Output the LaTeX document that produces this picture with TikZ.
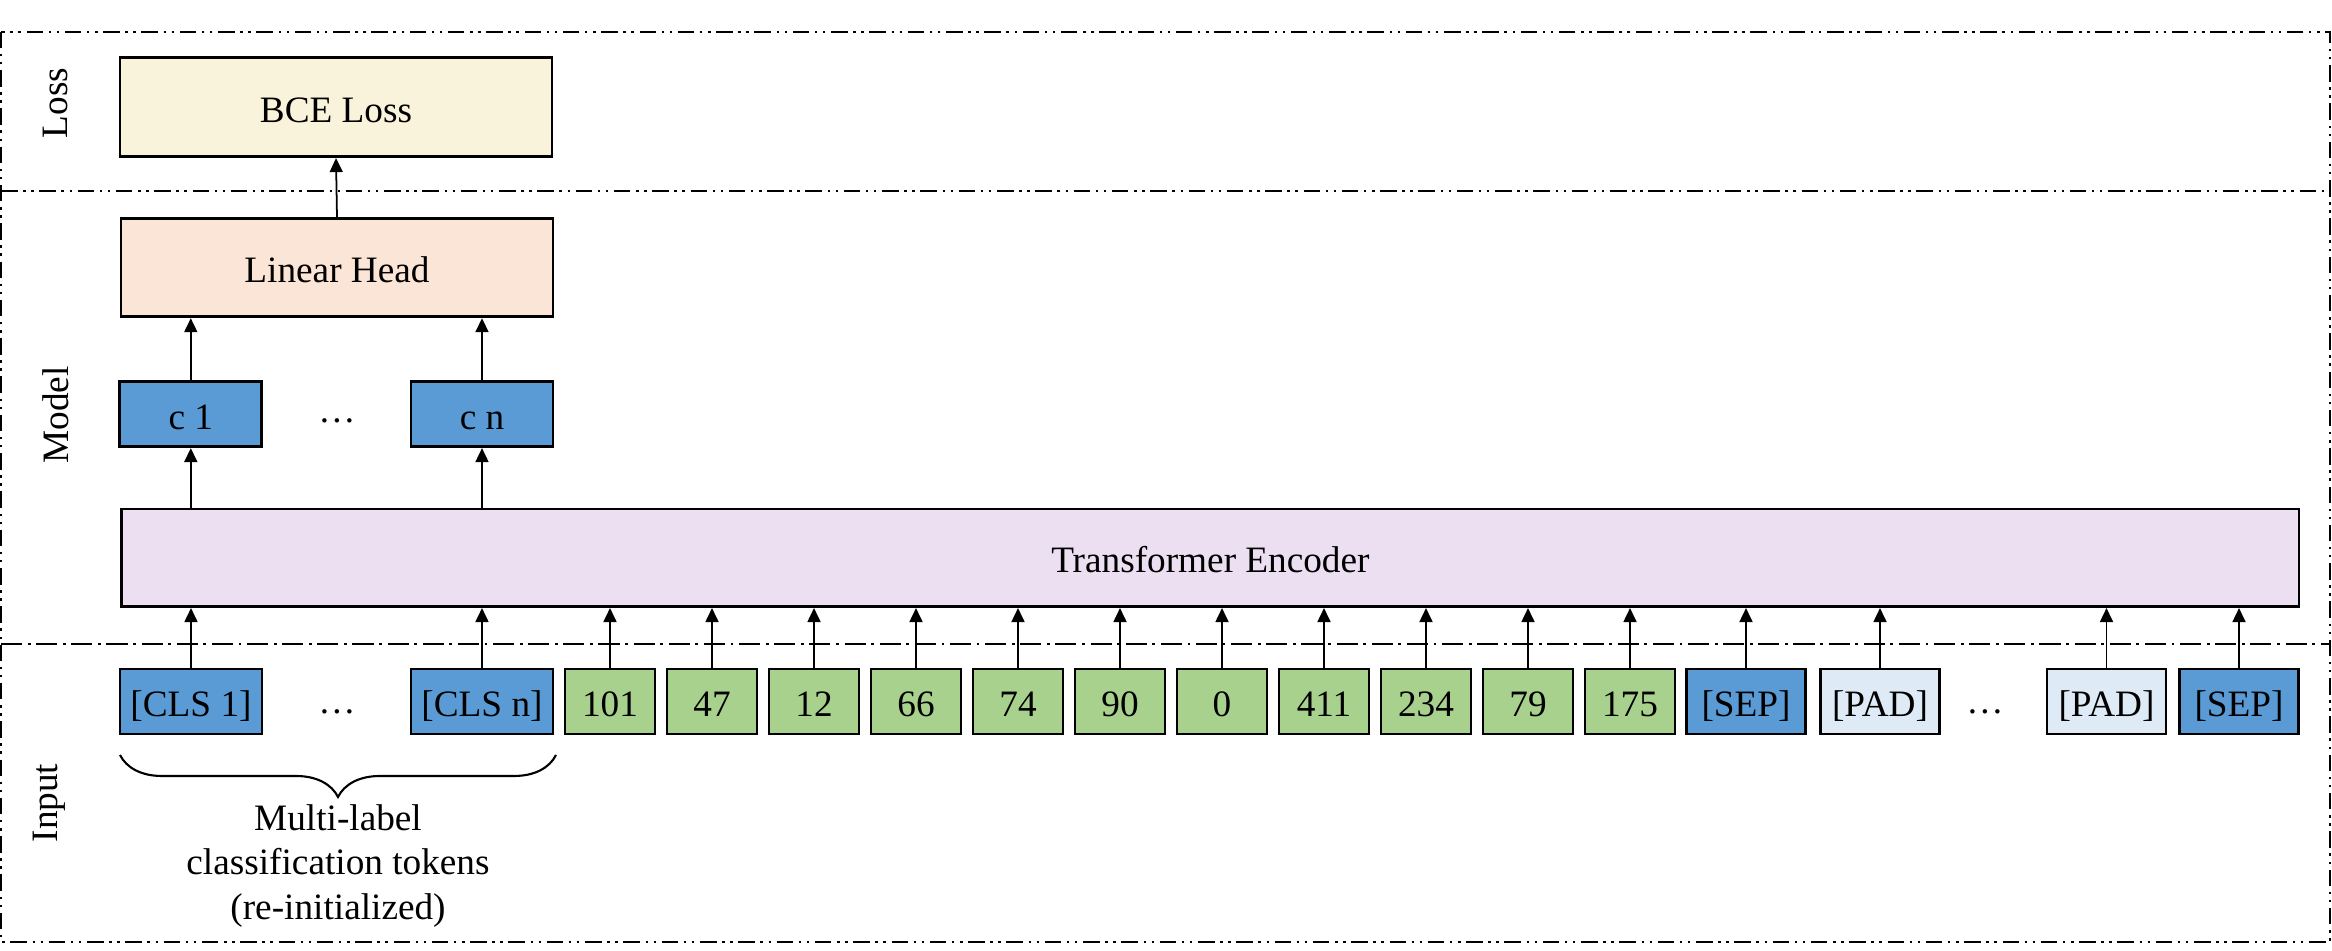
\documentclass[tikz,border=0pt]{standalone}
\usepackage{fontspec}
\setmainfont{Liberation Serif}
\usetikzlibrary{arrows.meta,decorations.pathreplacing}
\definecolor{lossyellow}{HTML}{FAF3DC}
\definecolor{headpeach}{HTML}{FBE5D6}
\definecolor{encpurple}{HTML}{EBDFF1}
\definecolor{tokblue}{HTML}{5B9BD5}
\definecolor{tokgreen}{HTML}{A9D18E}
\definecolor{padblue}{HTML}{DEEBF7}
\begin{document}
\begin{tikzpicture}[every node/.style={font=\fontsize{10.6}{12.7}\selectfont},
    blk/.style={draw, line width=0.8pt, inner sep=0pt, minimum height=0.65cm, text height=0.9em, text depth=0.05em},
    cls/.style={blk, fill=tokblue, minimum width=1.42cm},
    tok/.style={blk, fill=tokgreen, minimum width=0.9cm},
    spc/.style={blk, fill=tokblue, minimum width=1.19cm},
    pad/.style={blk, fill=padblue, minimum width=1.19cm},
    up/.style={-{Triangle[length=1.4mm,width=1.3mm]}, line width=0.5pt},
    zone/.style={line width=0.6pt, dash pattern=on 4.7pt off 1.6pt on 0.7pt off 1.6pt on 0.7pt off 1.6pt},
    zonein/.style={line width=0.6pt, dash pattern=on 6pt off 1.6pt on 0.8pt off 1.6pt}]
    \useasboundingbox (0,0) rectangle (23.32,-9.51);
    \draw[zone] (0.01,-0.317) rectangle (23.30,-9.417);
    \draw[zone] (0.01,-1.907) -- (23.30,-1.907);
    \draw[zonein] (0.01,-6.44) -- (23.30,-6.44);
    \node[rotate=90] (losslab) at (0.55,-1.03) {Loss};
    \node[rotate=90] (modellab) at (0.56,-4.15) {Model};
    \node[rotate=90] (inputlab) at (0.49,-8.03) {Input};
    \node[blk, fill=lossyellow, minimum width=4.32cm, minimum height=0.99cm] (bce) at (3.36,-1.072) {BCE Loss};
    \node[blk, fill=headpeach, minimum width=4.32cm, minimum height=0.98cm] (head) at (3.37,-2.678) {Linear Head};
    \node[cls] (c1) at (1.908,-4.142) {c 1};
    \node[anchor=base] (cdots) at (3.37,-4.23) {…};
    \node[cls] (cn) at (4.82,-4.142) {c n};
    \node[blk, fill=encpurple, minimum width=21.77cm, minimum height=0.977cm] (enc) at (12.104,-5.578) {Transformer Encoder};
    \node[cls] (cls1) at (1.91,-7.015) {[CLS 1]};
    \node[anchor=base] (clsdots) at (3.37,-7.14) {…};
    \node[cls] (clsn) at (4.82,-7.015) {[CLS n]};
    \node[tok] (t1) at (6.10,-7.015) {101};
    \node[tok] (t2) at (7.12,-7.015) {47};
    \node[tok] (t3) at (8.14,-7.015) {12};
    \node[tok] (t4) at (9.16,-7.015) {66};
    \node[tok] (t5) at (10.18,-7.015) {74};
    \node[tok] (t6) at (11.20,-7.015) {90};
    \node[tok] (t7) at (12.22,-7.015) {0};
    \node[tok] (t8) at (13.24,-7.015) {411};
    \node[tok] (t9) at (14.26,-7.015) {234};
    \node[tok] (t10) at (15.28,-7.015) {79};
    \node[tok] (t11) at (16.30,-7.015) {175};
    \node[spc] (sep1) at (17.46,-7.015) {[SEP]};
    \node[pad] (pad1) at (18.80,-7.015) {[PAD]};
    \node[anchor=base] (paddots) at (19.85,-7.14) {…};
    \node[pad] (pad2) at (21.065,-7.015) {[PAD]};
    \node[spc] (sep2) at (22.39,-7.015) {[SEP]};
    \draw[up] (head.north) -- (bce.south);
    \draw[up] (c1.north) -- (c1.north |- head.south);
    \draw[up] (cn.north) -- (cn.north |- head.south);
    \draw[up] (c1 |- enc.north) -- (c1.south);
    \draw[up] (cn |- enc.north) -- (cn.south);
    \draw[up] (cls1.north) -- (cls1.north |- enc.south);
    \draw[up] (clsn.north) -- (clsn.north |- enc.south);
    \draw[up] (t1.north) -- (t1.north |- enc.south);
    \draw[up] (t2.north) -- (t2.north |- enc.south);
    \draw[up] (t3.north) -- (t3.north |- enc.south);
    \draw[up] (t4.north) -- (t4.north |- enc.south);
    \draw[up] (t5.north) -- (t5.north |- enc.south);
    \draw[up] (t6.north) -- (t6.north |- enc.south);
    \draw[up] (t7.north) -- (t7.north |- enc.south);
    \draw[up] (t8.north) -- (t8.north |- enc.south);
    \draw[up] (t9.north) -- (t9.north |- enc.south);
    \draw[up] (t10.north) -- (t10.north |- enc.south);
    \draw[up] (t11.north) -- (t11.north |- enc.south);
    \draw[up] (sep1.north) -- (sep1.north |- enc.south);
    \draw[up] (pad1.north) -- (pad1.north |- enc.south);
    \draw[up] (pad2.north) -- (pad2.north |- enc.south);
    \draw[up] (sep2.north) -- (sep2.north |- enc.south);
    \coordinate (bracel) at (1.20,-7.55);
    \coordinate (bracer) at (5.56,-7.55);
    \draw[decorate, decoration={brace, mirror, amplitude=0.42cm}, line width=0.6pt] (bracel) -- (bracer);
    \node[align=center] (clsnote) at (3.38,-8.66) {Multi-label\\classification tokens\\(re-initialized)};
\end{tikzpicture}
\end{document}
